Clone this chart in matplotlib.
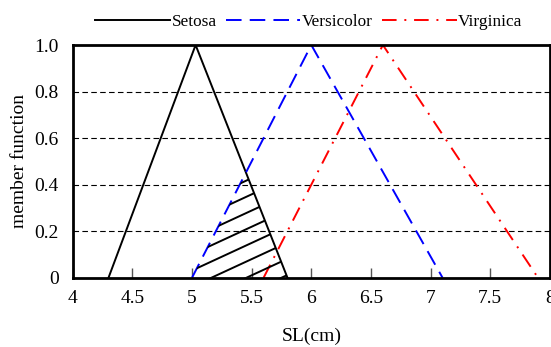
import numpy as np
import matplotlib
matplotlib.use("Agg")
import matplotlib.pyplot as plt
from matplotlib.patches import Polygon

# ---- data ----
species = ["Setosa", "Versicolor", "Virginica"]
setosa_x = [4.3, 5.03, 5.8]
versicolor_x = [5.0, 6.0, 7.1]
virginica_x = [5.6, 6.6, 7.9]
member_y = [0.0, 1.0, 0.0]
xticks = [4, 4.5, 5, 5.5, 6, 6.5, 7, 7.5, 8]
xtick_labels = ["4", "4.5", "5", "5.5", "6", "6.5", "7", "7.5", "8"]
yticks = [0, 0.2, 0.4, 0.6, 0.8, 1.0]
ytick_labels = ["0", "0.2", "0.4", "0.6", "0.8", "1.0"]

plt.rcParams['font.family'] = ['Liberation Serif', 'DejaVu Serif']

fig = plt.figure(figsize=(5.51, 3.47), dpi=100)
ax = fig.add_axes([0.132, 0.1997, 0.866, 0.6706])

l1, = ax.plot(setosa_x, member_y, color='black', lw=1.4, linestyle='-', label=species[0])
l2, = ax.plot(versicolor_x, member_y, color='blue', lw=1.4, linestyle=(0, (8, 4.2)), label=species[1])
l3, = ax.plot(virginica_x, member_y, color='red', lw=1.4, linestyle=(0, (7.5, 4, 1, 4)), label=species[2])

# hatched overlap region between Setosa (right slope) and Versicolor (left slope)
a1, b1 = setosa_x[1], setosa_x[2]
a2, b2 = versicolor_x[0], versicolor_x[1]
xi = (b1 * (b2 - a2) + a2 * (b1 - a1)) / ((b2 - a2) + (b1 - a1))
yi = (xi - a2) / (b2 - a2)
tri = Polygon([[a2, 0], [b1, 0], [xi, yi]], closed=True, facecolor='none',
              edgecolor='none', transform=ax.transData)
ax.add_patch(tri)
slope = 0.237
spacing = 0.0696
offsets = 0.031 + spacing * np.arange(-4, 6)
xx = np.array([a2 - 0.2, b1 + 0.2])
for c in offsets:
    ln, = ax.plot(xx, c + slope * (xx - a2), color='black', lw=1.4)
    ln.set_clip_path(tri)

ax.set_xlim(4, 8)
ax.set_ylim(0, 1.0)
ax.set_xticks(xticks)
ax.set_xticklabels(xtick_labels)
ax.set_yticks(yticks)
ax.set_yticklabels(ytick_labels)
ax.tick_params(axis='x', direction='in', length=7, width=1.0, color='#555555',
               labelsize=14, pad=9)
ax.tick_params(axis='y', length=0, labelsize=14, pad=10)
for s in ax.spines.values():
    s.set_linewidth(2.0)
    s.set_color('black')

for yv in yticks[1:-1]:
    ax.axhline(yv, color='black', lw=0.8, linestyle=(0, (5, 3)), zorder=0)

ax.set_xlabel("SL(cm)", fontsize=14, labelpad=15)
ax.set_ylabel("member function", fontsize=14, labelpad=5)

ax.legend(handles=[l1, l2, l3], loc='lower center', bbox_to_anchor=(0.495, 1.0),
          ncol=3, frameon=False, fontsize=12.4, handlelength=4.35,
          handletextpad=0.1, columnspacing=0.5, borderaxespad=0.45)

fig.savefig("out.png", dpi=100)
